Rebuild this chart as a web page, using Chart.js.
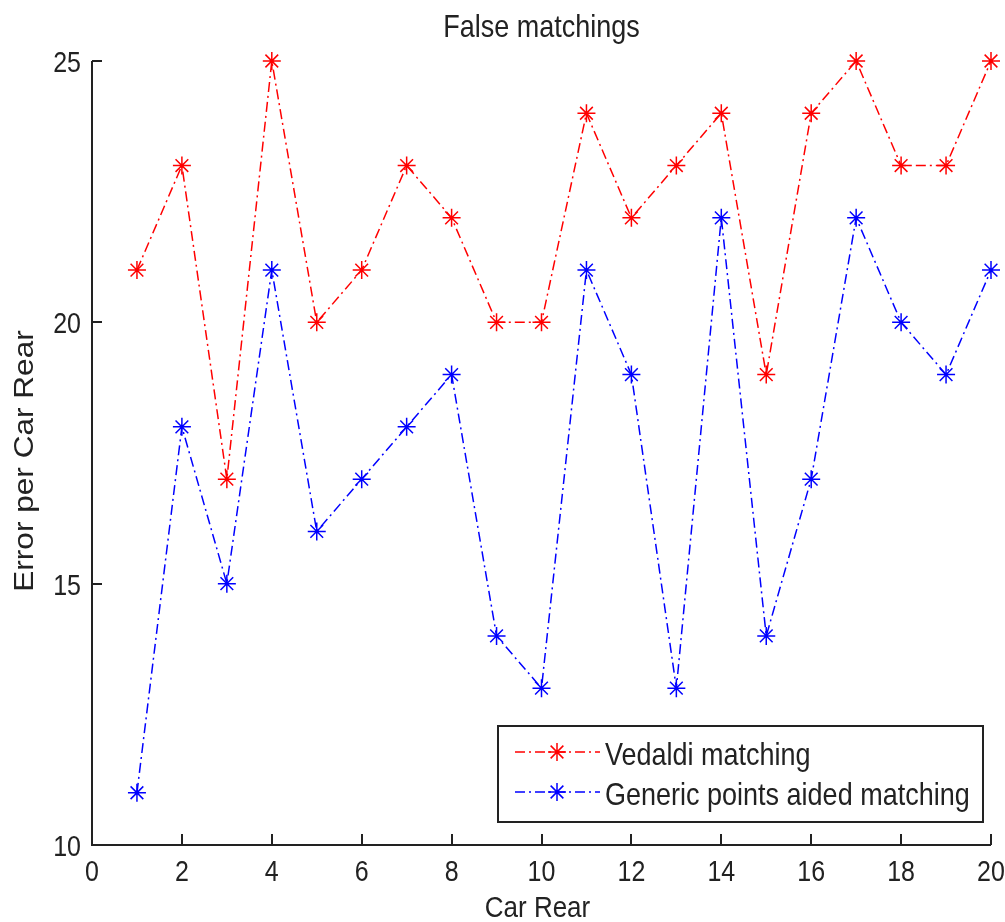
<!DOCTYPE html>
<html>
<head>
<meta charset="utf-8">
<title>False matchings</title>
<script src="https://cdn.jsdelivr.net/npm/chart.js@4/dist/chart.umd.min.js"></script>
<style>
  html, body { margin: 0; padding: 0; background: #fff; }
  canvas { display: block; }
</style>
</head>
<body>
<canvas id="chart" width="1005" height="922"></canvas>
<script>
// Car rear index and false matchings per method
const carRear = [1, 2, 3, 4, 5, 6, 7, 8, 9, 10, 11, 12, 13, 14, 15, 16, 17, 18, 19, 20];
const vedaldi = [21, 23, 17, 25, 20, 21, 23, 22, 20, 20, 24, 22, 23, 24, 19, 24, 25, 23, 23, 25];
const generic = [11, 18, 15, 21, 16, 17, 18, 19, 14, 13, 21, 19, 13, 22, 14, 17, 22, 20, 19, 21];
const xTicks = [0, 2, 4, 6, 8, 10, 12, 14, 16, 18, 20];
const yTicks = [10, 15, 20, 25];
const seriesNames = ['Vedaldi matching', 'Generic points aided matching'];

const INK = '#222';
const FONT = '"Liberation Sans", Arial, Helvetica, sans-serif';
const STRETCH = 1.17; // text is a bit taller than wide
const DASH = [10, 4, 2, 4];

function text(ctx, str, x, y, size, align) {
  ctx.save();
  ctx.translate(x, y);
  ctx.scale(1, STRETCH);
  ctx.font = size + 'px ' + FONT;
  ctx.fillStyle = INK;
  ctx.textAlign = align;
  ctx.textBaseline = 'alphabetic';
  ctx.fillText(str, 0, 0);
  ctx.restore();
}

function star(ctx, x, y, r, color) {
  ctx.save();
  ctx.strokeStyle = color;
  ctx.lineWidth = 1.5;
  ctx.setLineDash([]);
  ctx.beginPath();
  const d = r * Math.SQRT1_2;
  ctx.moveTo(x - r, y); ctx.lineTo(x + r, y);
  ctx.moveTo(x, y - r); ctx.lineTo(x, y + r);
  ctx.moveTo(x - d, y - d); ctx.lineTo(x + d, y + d);
  ctx.moveTo(x - d, y + d); ctx.lineTo(x + d, y - d);
  ctx.stroke();
  ctx.restore();
}

// axes with inward ticks, labels, title and legend
const matlabLook = {
  id: 'matlabLook',
  afterDraw(chart) {
    const ctx = chart.ctx;
    const xs = chart.scales.x, ys = chart.scales.y;
    const a = chart.chartArea;

    ctx.save();
    ctx.strokeStyle = INK;
    ctx.lineWidth = 2;
    ctx.beginPath();
    ctx.moveTo(a.left, a.top);
    ctx.lineTo(a.left, a.bottom);
    ctx.lineTo(a.right, a.bottom);
    xTicks.forEach(v => {
      const px = Math.round(xs.getPixelForValue(v));
      ctx.moveTo(px, a.bottom);
      ctx.lineTo(px, a.bottom - 11);
    });
    yTicks.forEach(v => {
      const py = Math.round(ys.getPixelForValue(v));
      ctx.moveTo(a.left, py);
      ctx.lineTo(a.left + 10, py);
    });
    ctx.stroke();
    ctx.restore();

    xTicks.forEach(v => text(ctx, String(v), xs.getPixelForValue(v), a.bottom + 36, 25, 'center'));
    yTicks.forEach(v => text(ctx, String(v), a.left - 11, ys.getPixelForValue(v) + 11, 25, 'right'));

    text(ctx, 'False matchings', (a.left + a.right) / 2, 37, 27, 'center');
    text(ctx, 'Car Rear', (a.left + a.right) / 2 - 4, 917, 26, 'center');

    ctx.save();
    ctx.translate(33, 461);
    ctx.rotate(-Math.PI / 2);
    ctx.scale(STRETCH, 1);
    ctx.font = '27px ' + FONT;
    ctx.fillStyle = INK;
    ctx.textAlign = 'center';
    ctx.textBaseline = 'alphabetic';
    ctx.fillText('Error per Car Rear', 0, 0);
    ctx.restore();

    // legend box
    ctx.save();
    ctx.fillStyle = '#fff';
    ctx.fillRect(498, 726, 485, 96);
    ctx.strokeStyle = INK;
    ctx.lineWidth = 2;
    ctx.strokeRect(498, 726, 485, 96);
    ctx.restore();

    chart.data.datasets.forEach((ds, i) => {
      const ly = 752 + i * 40;
      ctx.save();
      ctx.strokeStyle = ds.borderColor;
      ctx.lineWidth = 1.5;
      ctx.setLineDash(DASH);
      ctx.beginPath();
      ctx.moveTo(515, ly);
      ctx.lineTo(600, ly);
      ctx.stroke();
      ctx.restore();
      star(ctx, 557, ly, 9, ds.borderColor);
      text(ctx, ds.label, 605, ly + 13, 27, 'left');
    });
  }
};

const toPoints = vals => carRear.map((x, i) => ({ x: x, y: vals[i] }));

new Chart(document.getElementById('chart'), {
  type: 'line',
  data: {
    datasets: [
      {
        label: seriesNames[0],
        data: toPoints(vedaldi),
        borderColor: '#ff0000',
        pointBorderColor: '#ff0000',
        borderWidth: 1.5,
        borderDash: DASH,
        pointStyle: 'star',
        pointRadius: 9,
        pointBorderWidth: 1.5,
        fill: false,
        tension: 0,
        clip: false
      },
      {
        label: seriesNames[1],
        data: toPoints(generic),
        borderColor: '#0000ff',
        pointBorderColor: '#0000ff',
        borderWidth: 1.5,
        borderDash: DASH,
        pointStyle: 'star',
        pointRadius: 9,
        pointBorderWidth: 1.5,
        fill: false,
        tension: 0,
        clip: false
      }
    ]
  },
  options: {
    responsive: false,
    animation: false,
    events: [],
    layout: { padding: { top: 61, right: 14, left: 0, bottom: 0 } },
    plugins: {
      legend: { display: false },
      tooltip: { enabled: false },
      title: { display: false }
    },
    scales: {
      x: {
        type: 'linear',
        min: 0,
        max: 20,
        ticks: { display: false, stepSize: 2 },
        grid: { display: false },
        border: { display: false },
        afterFit(scale) { scale.height = 77; }
      },
      y: {
        min: 10,
        max: 25,
        ticks: { display: false, stepSize: 5 },
        grid: { display: false },
        border: { display: false },
        afterFit(scale) { scale.width = 92; }
      }
    }
  },
  plugins: [matlabLook]
});
</script>
</body>
</html>
